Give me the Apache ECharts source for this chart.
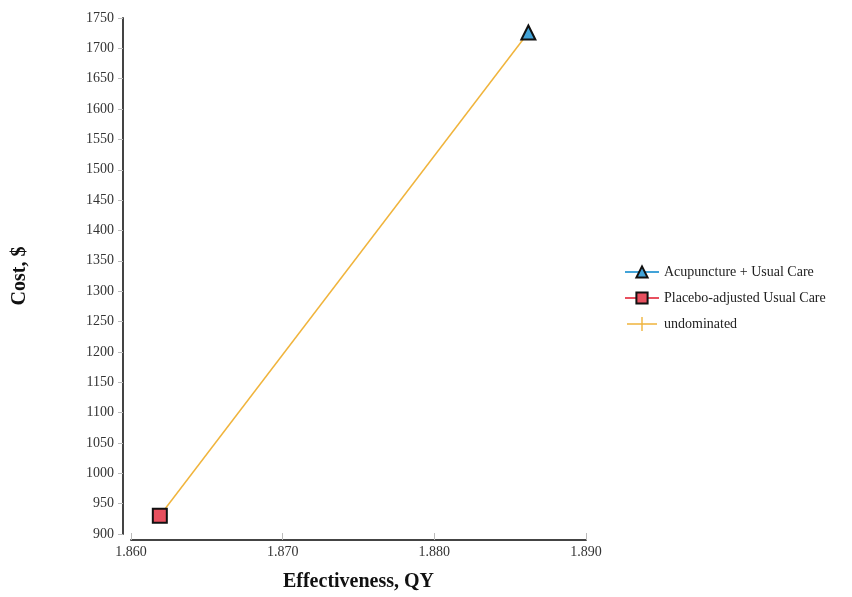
<!DOCTYPE html>
<html>
<head>
<meta charset="utf-8">
<script src="https://cdn.jsdelivr.net/npm/echarts@6/dist/echarts.min.js"></script>
<style>
  html, body { margin: 0; padding: 0; background: #fff; }
  #chart { width: 852px; height: 597px; }
</style>
</head>
<body>
<div id="chart"></div>
<script>
// Strategy names
var strategies = ['Acupuncture + Usual Care', 'Placebo-adjusted Usual Care'];
// Effectiveness (QALY) and cost ($) for each strategy
var effectiveness = [1.8862, 1.8619];
var cost = [1726, 930];
// Frontier label
var frontierName = 'undominated';

var serif = '"Liberation Serif", "DejaVu Serif", serif';
var chart = echarts.init(document.getElementById('chart'));

// Frontier runs from the cheapest strategy to the most effective one
var frontier = [[effectiveness[1], cost[1]], [effectiveness[0], cost[0]]];

chart.setOption({
  animation: false,
  backgroundColor: '#fff',
  grid: { left: 131, right: 266, top: 18, bottom: 62 },
  legend: {
    orient: 'vertical',
    left: 619,
    top: 260,
    itemWidth: 34,
    itemHeight: 14,
    itemGap: 12,
    textStyle: { fontFamily: serif, fontSize: 14, color: '#222' },
    data: [
      { name: strategies[0] },
      { name: strategies[1] },
      { name: frontierName, icon: 'path://M0,6.3 L14.3,6.3 L14.3,0 L15.7,0 L15.7,6.3 L30,6.3 L30,7.7 L15.7,7.7 L15.7,14 L14.3,14 L14.3,7.7 L0,7.7 Z' }
    ]
  },
  xAxis: {
    type: 'value',
    min: 1.86, max: 1.89, interval: 0.01,
    offset: 6,
    name: 'Effectiveness, QY',
    nameLocation: 'middle',
    nameGap: 32,
    nameTextStyle: { fontFamily: serif, fontSize: 20, fontWeight: 'bold', color: '#111' },
    axisLine: { show: true, lineStyle: { color: '#444', width: 2 } },
    axisTick: { show: true, inside: true, length: 7, lineStyle: { color: '#bbb' } },
    axisLabel: { fontFamily: serif, fontSize: 14, color: '#333', margin: 5,
      formatter: function (v) { return v.toFixed(3); } },
    splitLine: { show: false }
  },
  yAxis: {
    type: 'value',
    min: 900, max: 1750, interval: 50,
    offset: 8,
    name: 'Cost, $',
    nameLocation: 'middle',
    nameGap: 93,
    nameRotate: 90,
    nameTextStyle: { fontFamily: serif, fontSize: 20, fontWeight: 'bold', color: '#111' },
    axisLine: { show: true, lineStyle: { color: '#444', width: 2 } },
    axisTick: { show: true, length: 5, lineStyle: { color: '#bbb' } },
    axisLabel: { fontFamily: serif, fontSize: 14, color: '#333', margin: 9,
      formatter: function (v) { return String(v); } },
    splitLine: { show: false }
  },
  series: [
    {
      name: frontierName,
      type: 'line',
      data: frontier,
      symbol: 'none',
      itemStyle: { color: '#f0b43c' },
      lineStyle: { color: '#f0b43c', width: 1.5 },
      z: 1
    },
    {
      name: strategies[0],
      type: 'line',
      data: [[effectiveness[0], cost[0]]],
      symbol: 'triangle',
      symbolSize: 14,
      itemStyle: { color: '#42a3d8', borderColor: '#111', borderWidth: 2 },
      lineStyle: { color: '#42a3d8', width: 1 },
      z: 3
    },
    {
      name: strategies[1],
      type: 'line',
      data: [[effectiveness[1], cost[1]]],
      symbol: 'rect',
      symbolSize: 14,
      itemStyle: { color: '#e8505f', borderColor: '#111', borderWidth: 2 },
      lineStyle: { color: '#e8505f', width: 1 },
      z: 3
    }
  ]
});
</script>
</body>
</html>
